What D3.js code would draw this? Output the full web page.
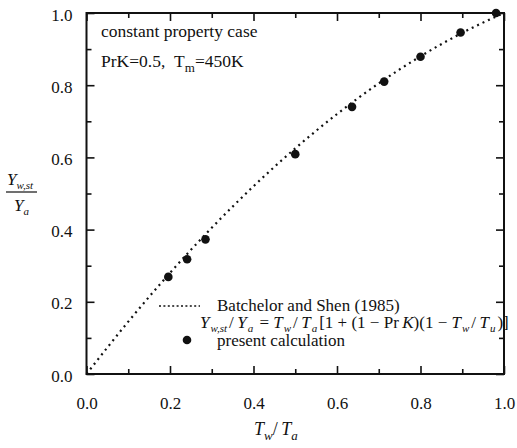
<!DOCTYPE html>
<html><head><meta charset="utf-8">
<script src="https://cdn.jsdelivr.net/npm/d3@7"></script>
<style>body{margin:0;background:#fff;}</style></head>
<body><svg id="c" width="517" height="448"></svg>
<script>
// Batchelor and Shen (1985) curve
const curveX = [0.0, 0.1, 0.2, 0.3, 0.4, 0.5, 0.6, 0.7, 0.8, 0.9, 1.0];
const curveY = [0.0, 0.145, 0.28, 0.405, 0.52, 0.625, 0.72, 0.805, 0.88, 0.945, 1.0];
// present calculation points
const calcX = [0.196, 0.241, 0.285, 0.50, 0.636, 0.713, 0.80, 0.896, 0.981];
const calcY = [0.269, 0.318, 0.373, 0.609, 0.740, 0.810, 0.879, 0.946, 1.0];
const majorTicks = [0, 0.2, 0.4, 0.6, 0.8, 1.0];
const minorTicks = [0.1, 0.3, 0.5, 0.7, 0.9];

const FONT = "Liberation Serif";
const svg = d3.select("#c").attr("font-family", FONT).attr("fill", "#111");
const L = 86.5, R = 504, T = 13, B = 374;
const x = d3.scaleLinear().domain([0, 1]).range([L, R]);
const y = d3.scaleLinear().domain([0, 1]).range([B, T]);

svg.append("rect").attr("x", L).attr("y", T).attr("width", R - L).attr("height", B - T)
  .attr("fill", "none").attr("stroke", "#111").attr("stroke-width", 2);

const fmt = d3.format(".1f");
function addAxis(gen, tr, size, labels) {
  const g = svg.append("g").attr("transform", tr)
    .call(gen.tickValues(majorTicks).tickSize(size).tickFormat(labels ? fmt : ""));
  g.attr("font-family", FONT).attr("font-size", 17);
  g.select(".domain").remove();
  g.selectAll("line").attr("stroke", "#111").attr("stroke-width", 1.6);
  g.selectAll("text").attr("fill", "#111").attr("font-family", FONT);
  return g;
}
function addMinor(gen, tr, size) {
  const g = svg.append("g").attr("transform", tr)
    .call(gen.tickValues(minorTicks).tickSize(size).tickFormat(""));
  g.select(".domain").remove();
  g.selectAll("line").attr("stroke", "#111").attr("stroke-width", 1.6);
}
const bx = addAxis(d3.axisBottom(x), `translate(0,${B})`, -8, true);
bx.selectAll("text").attr("y", 23);
addMinor(d3.axisBottom(x), `translate(0,${B})`, -5);
addAxis(d3.axisTop(x), `translate(0,${T})`, -8, false);
addMinor(d3.axisTop(x), `translate(0,${T})`, -5);
const ly = addAxis(d3.axisLeft(y), `translate(${L},0)`, -8, true);
ly.selectAll("text").attr("x", -14).attr("dy", "0.42em");
addMinor(d3.axisLeft(y), `translate(${L},0)`, -5);
addAxis(d3.axisRight(y), `translate(${R},0)`, -8, false);
addMinor(d3.axisRight(y), `translate(${R},0)`, -5);

// curve
const line = d3.line().x(d => x(d[0])).y(d => y(d[1])).curve(d3.curveMonotoneX);
svg.append("path").datum(d3.zip(curveX, curveY))
  .attr("d", line).attr("fill", "none").attr("stroke", "#111")
  .attr("stroke-width", 2.2).attr("stroke-dasharray", "2,4");

// points
svg.append("g").selectAll("circle").data(d3.zip(calcX, calcY)).join("circle")
  .attr("cx", d => x(d[0])).attr("cy", d => y(d[1])).attr("r", 4.3).attr("fill", "#111");

// annotations
svg.append("text").attr("x", 101).attr("y", 37).attr("font-size", 17.5).text("constant property case");
const t2 = svg.append("text").attr("x", 101).attr("y", 67).attr("font-size", 17.5);
t2.append("tspan").text("PrK=0.5,\u00a0\u00a0T");
t2.append("tspan").attr("dy", 5).attr("font-size", 13).text("m");
t2.append("tspan").attr("dy", -5).text("=450K");

// legend
svg.append("line").attr("x1", 159).attr("x2", 200).attr("y1", 306).attr("y2", 306)
  .attr("stroke", "#111").attr("stroke-width", 1.6).attr("stroke-dasharray", "2,2.4");
svg.append("text").attr("x", 217).attr("y", 311).attr("font-size", 17).text("Batchelor and Shen (1985)");
const f = svg.append("text").attr("x", 200).attr("y", 328).attr("font-size", 17);
const it = (s) => f.append("tspan").attr("font-style", "italic").text(s);
const sub = (s) => f.append("tspan").attr("dy", 4).attr("dx", 1).attr("font-size", 11).attr("font-style", "italic").text(s);
const up = (s) => f.append("tspan").attr("dy", -4).attr("dx", 2).text(s);
const sp = "\u2009";
it("Y"); sub("w,st"); up("/" + sp); it("Y"); sub("a"); up("\u00a0=\u00a0"); it("T"); sub("w"); up("/" + sp); it("T"); sub("a");
up("[1\u00a0+\u00a0(1\u00a0\u2212\u00a0Pr\u2009"); it("K"); f.append("tspan").text(")(1\u00a0\u2212\u00a0"); it("T"); sub("w"); up("/" + sp); it("T"); sub("u"); up(")]");
svg.append("circle").attr("cx", 187).attr("cy", 340).attr("r", 4.3).attr("fill", "#111");
svg.append("text").attr("x", 217).attr("y", 346).attr("font-size", 17).text("present calculation");

// y label as fraction
const yl = svg.append("text").attr("x", 7).attr("y", 185).attr("font-size", 17);
yl.append("tspan").attr("font-style", "italic").text("Y");
yl.append("tspan").attr("dy", 4).attr("font-size", 11).attr("font-style", "italic").text("w,st");
svg.append("line").attr("x1", 6).attr("x2", 37).attr("y1", 192).attr("y2", 192).attr("stroke", "#111").attr("stroke-width", 1.2);
const yl2 = svg.append("text").attr("x", 14).attr("y", 211).attr("font-size", 17);
yl2.append("tspan").attr("font-style", "italic").text("Y");
yl2.append("tspan").attr("dy", 4).attr("font-size", 11).attr("font-style", "italic").text("a");

// x label
const xl = svg.append("text").attr("x", 254).attr("y", 435).attr("font-size", 18);
xl.append("tspan").attr("font-style", "italic").text("T");
xl.append("tspan").attr("dy", 5).attr("font-size", 13).attr("font-style", "italic").text("w");
xl.append("tspan").attr("dy", -5).text("/\u2009");
xl.append("tspan").attr("font-style", "italic").text("T");
xl.append("tspan").attr("dy", 5).attr("font-size", 13).attr("font-style", "italic").text("a");
</script></body></html>
